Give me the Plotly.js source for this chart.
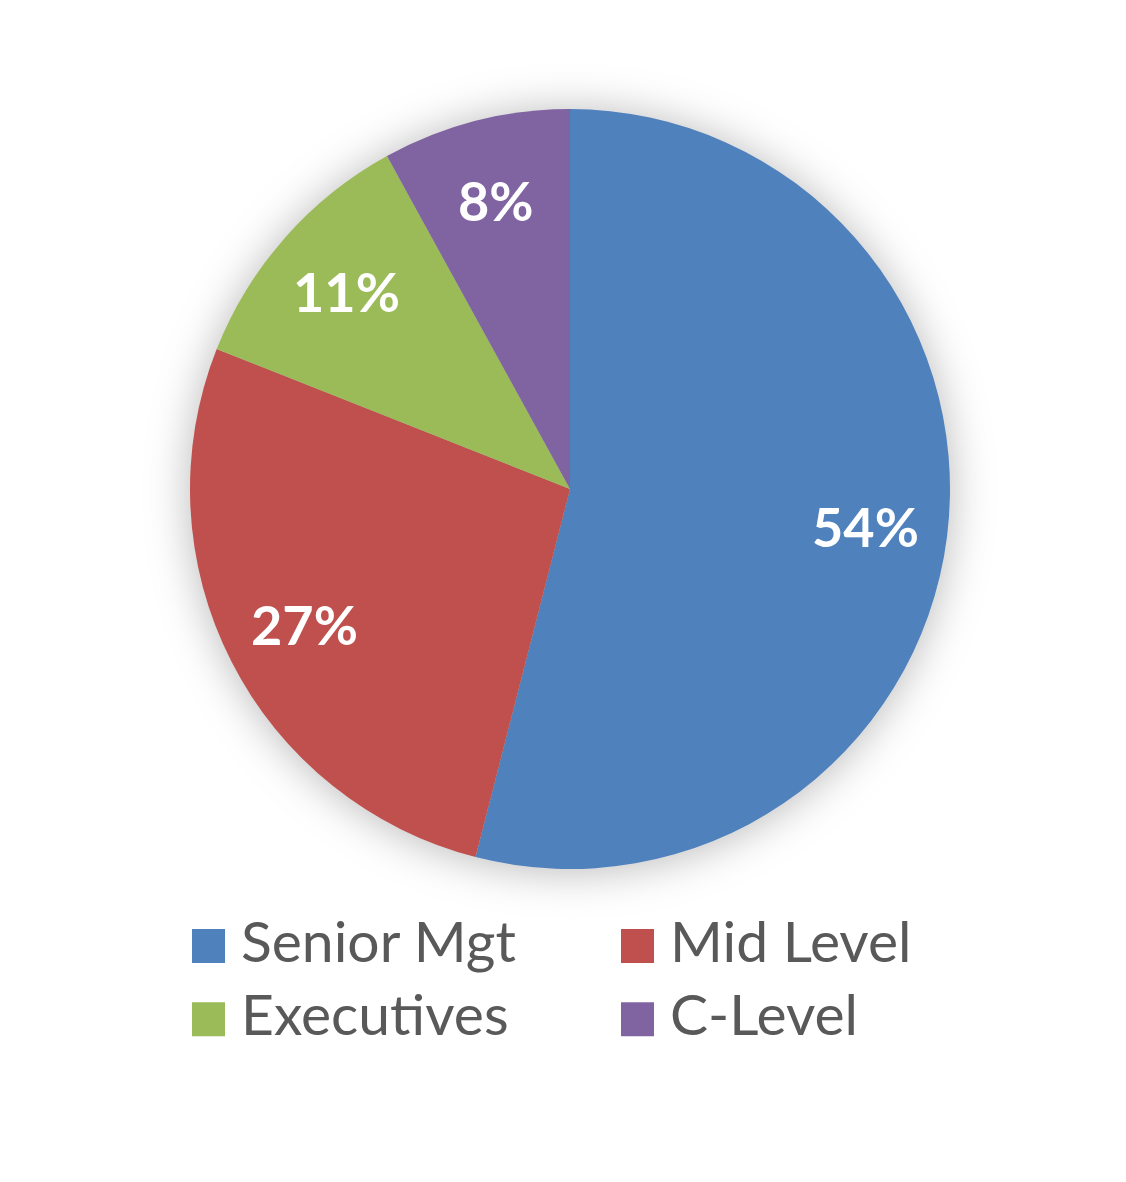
<!DOCTYPE html>
<html>
<head>
<meta charset="utf-8">
<script src="https://cdn.plot.ly/plotly-3.0.1.min.js"></script>
<style>
html,body{margin:0;padding:0;background:#fff;}
#chart{width:1126px;height:1182px;}
.pielayer .trace{filter: drop-shadow(0 2px 22px rgba(0,0,0,0.28));}
</style>
</head>
<body>
<div id="chart"></div>
<script>
const categories = ["Senior Mgt", "Mid Level", "Executives", "C-Level"];
const shares = [54, 27, 11, 8];
const colors = ["#4F81BD", "#C0504D", "#9BBB59", "#8064A2"];

const W = 1126, H = 1182;
const pieCx = 570, pieCy = 489, pieR = 380;
const labelRadiusFrac = 0.785;

// percentage labels placed from the cumulative shares
const total = shares.reduce((a, b) => a + b, 0);
let cum = 0;
const annotations = shares.map(function (v) {
  const mid = (cum + v / 2) / total * 2 * Math.PI;
  cum += v;
  const px = pieCx + labelRadiusFrac * pieR * Math.sin(mid);
  const py = pieCy - labelRadiusFrac * pieR * Math.cos(mid);
  return {
    x: px / W, y: 1 - py / H, xref: "paper", yref: "paper",
    text: "<b>" + Math.round(v / total * 100) + "%</b>",
    showarrow: false, xanchor: "center", yanchor: "middle",
    font: {family: "Lato, 'Open Sans', sans-serif", size: 54, color: "#ffffff"}
  };
});

const trace = {
  type: "pie",
  labels: categories,
  values: shares,
  sort: false,
  direction: "clockwise",
  rotation: 0,
  marker: {colors: colors, line: {width: 0}},
  textinfo: "none",
  hoverinfo: "label+percent",
  domain: {x: [(pieCx - pieR) / W, (pieCx + pieR) / W], y: [1 - (pieCy + pieR) / H, 1 - (pieCy - pieR) / H]}
};

const layout = {
  width: W,
  height: H,
  margin: {l: 0, r: 0, t: 0, b: 0},
  paper_bgcolor: "#ffffff",
  showlegend: true,
  annotations: annotations,
  legend: {
    orientation: "h",
    x: 192 / W, xanchor: "left",
    y: (H - 896) / H, yanchor: "top",
    font: {family: "Lato, 'Open Sans', sans-serif", size: 57, color: "#595959"},
    entrywidth: 384,
    entrywidthmode: "pixels",
    traceorder: "normal",
    bgcolor: "rgba(0,0,0,0)",
    itemclick: false
  }
};

Plotly.newPlot("chart", [trace], layout, {displayModeBar: false, staticPlot: true}).then(function (gd) {
  document.querySelectorAll(".legend .legendpoints path").forEach(function (p) {
    p.setAttribute("d", "M-16.5,-17H16.5V17H-16.5Z");
    p.setAttribute("transform", "translate(16.5,6.5)");
  });
  document.querySelectorAll(".legend text.legendtext").forEach(function (t) {
    t.setAttribute("x", "49");
  });
  // tighten the row spacing of the two-row legend
  const items = Array.from(document.querySelectorAll(".legend g.traces"));
  const ys = items.map(function (g) {
    const m = /translate\(\s*([-\d.]+)[ ,]+([-\d.]+)\)/.exec(g.getAttribute("transform") || "");
    return m ? [parseFloat(m[1]), parseFloat(m[2])] : [0, 0];
  });
  const minY = Math.min.apply(null, ys.map(function (p) { return p[1]; }));
  items.forEach(function (g, i) {
    if (ys[i][1] > minY + 1) {
      g.setAttribute("transform", "translate(" + ys[i][0] + "," + (ys[i][1] - 4) + ")");
    }
  });
});
</script>
</body>
</html>
